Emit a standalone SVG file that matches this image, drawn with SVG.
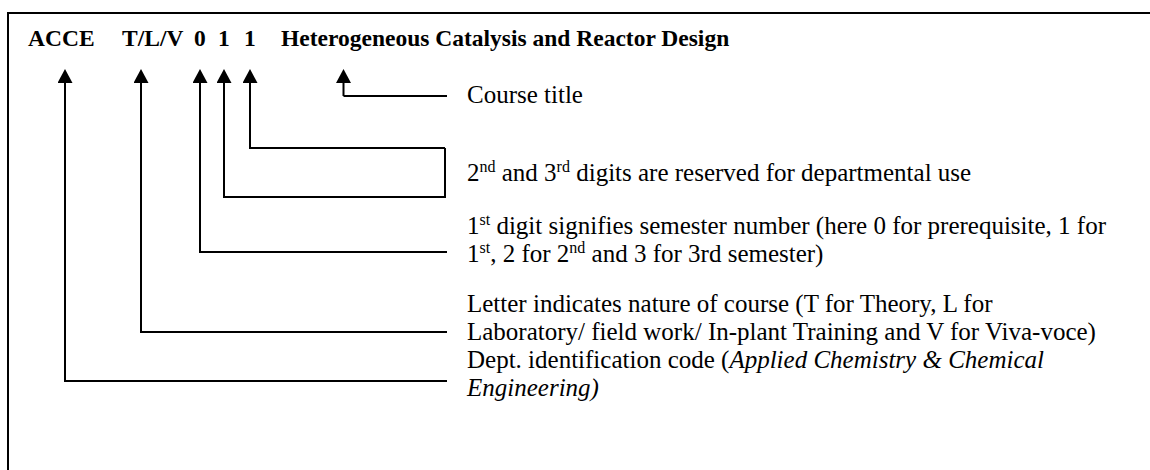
<svg xmlns="http://www.w3.org/2000/svg" width="1150" height="470" viewBox="0 0 1150 470">
<defs>
<marker id="ah" markerUnits="userSpaceOnUse" viewBox="0 0 14 15" refX="0" refY="7.5" markerWidth="14" markerHeight="15" orient="auto">
<path d="M0,0 L14,7.5 L0,15 z" fill="#000"/>
</marker>
<style>
.t{font-family:"Liberation Serif","Times New Roman",serif;font-size:25px;fill:#000}
.b{font-family:"Liberation Serif","Times New Roman",serif;font-size:23.5px;font-weight:bold;fill:#000}
.sup{font-size:16px}
.c{fill:none;stroke:#000;stroke-width:2}
</style>
</defs>
<rect width="1150" height="470" fill="#fff"/>
<path class="c" d="M8,470 V13 H1150"/>
<g id="title">
<text class="b" x="28" y="46">ACCE</text>
<text class="b" x="122" y="46">T/L/V</text>
<text class="b" x="194" y="46">0</text>
<text class="b" x="218" y="46">1</text>
<text class="b" x="244" y="46">1</text>
<text class="b" x="281" y="46">Heterogeneous Catalysis and Reactor Design</text>
</g>
<g id="connectors">
<path class="c" d="M343.5,96 V83" stroke-width="1.5" marker-end="url(#ah)"/>
<path class="c" d="M447,96 H343.5"/>
<path class="c" d="M445,148 H250 V83" marker-end="url(#ah)"/>
<path class="c" d="M445,148 V197 H224 V83" marker-end="url(#ah)"/>
<path class="c" d="M447,252 H200 V83" marker-end="url(#ah)"/>
<path class="c" d="M447,332 H141 V83" marker-end="url(#ah)"/>
<path class="c" d="M447,381 H65 V83" marker-end="url(#ah)"/>
</g>
<g id="label-course">
<text class="t" x="467" y="103">Course title</text>
</g>
<g id="label-digits23">
<text class="t" x="467" y="181">2<tspan class="sup" dy="-9">nd</tspan><tspan dy="9"> and 3</tspan><tspan class="sup" dy="-9">rd</tspan><tspan dy="9"> digits are reserved for departmental use</tspan></text>
</g>
<g id="label-digit1">
<text class="t" x="467" y="234">1<tspan class="sup" dy="-9">st</tspan><tspan dy="9"> digit signifies semester number (here 0 for prerequisite, 1 for</tspan></text>
<text class="t" x="467" y="262">1<tspan class="sup" dy="-9">st</tspan><tspan dy="9">, 2 for 2</tspan><tspan class="sup" dy="-9">nd</tspan><tspan dy="9"> and 3 for 3rd semester)</tspan></text>
</g>
<g id="label-letter">
<text class="t" x="467" y="312">Letter indicates nature of course (T for Theory, L for</text>
<text class="t" x="467" y="340">Laboratory/ field work/ In-plant Training and V for Viva-voce)</text>
</g>
<g id="label-dept">
<text class="t" x="467" y="368">Dept. identification code (<tspan font-style="italic">Applied Chemistry &amp; Chemical</tspan></text>
<text class="t" x="467" y="396" font-style="italic">Engineering)</text>
</g>
</svg>
